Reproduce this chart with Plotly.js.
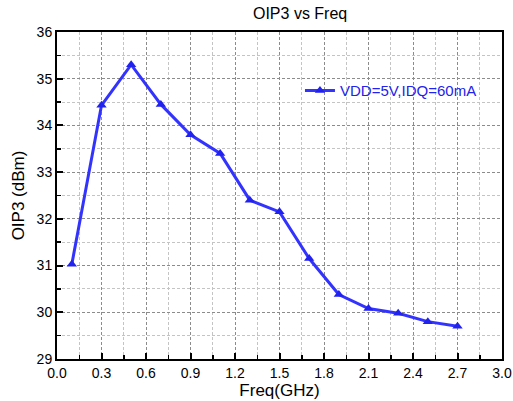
<!DOCTYPE html>
<html>
<head>
<meta charset="utf-8">
<script src="https://cdn.plot.ly/plotly-3.0.1.min.js"></script>
<style>html,body{margin:0;padding:0;background:#fff;}#chart{width:513px;height:401px;}</style>
</head>
<body>
<div id="chart"></div>
<script>
const freq = [0.1, 0.3, 0.5, 0.7, 0.9, 1.1, 1.3, 1.5, 1.7, 1.9, 2.1, 2.3, 2.5, 2.7];
const oip3 = [31.03, 34.43, 35.3, 34.45, 33.8, 33.4, 32.4, 32.15, 31.15, 30.38, 30.08, 29.98, 29.8, 29.7];
const seriesName = 'VDD=5V,IDQ=60mA';

Plotly.newPlot('chart', [{
  x: freq, y: oip3, type: 'scatter', mode: 'lines+markers', name: seriesName,
  line: {color: '#3333ff', width: 3},
  marker: {symbol: 'triangle-up', size: 9, color: '#2222ee'}
}], {
  width: 513, height: 401,
  margin: {l: 57, r: 11, t: 32, b: 42},
  paper_bgcolor: '#fff', plot_bgcolor: '#fff',
  font: {family: 'Liberation Sans, Arial, sans-serif', size: 14, color: '#000'},
  title: {text: 'OIP3 vs Freq', font: {size: 16}, x: 0.585, xanchor: 'center', y: 0.98, yanchor: 'top'},
  showlegend: true,
  legend: {x: 0.546, xanchor: 'left', y: 0.82, yanchor: 'middle', bgcolor: 'rgba(0,0,0,0)',
           font: {color: '#2222ee', size: 15}},
  xaxis: {
    range: [0, 3], dtick: 0.3, tick0: 0, tickformat: '.1f',
    showline: true, linecolor: '#000', linewidth: 2, mirror: true,
    ticks: 'inside', ticklen: 6, tickwidth: 2, tickcolor: '#000',
    zeroline: false,
    gridcolor: '#8c8c8c', griddash: '3px,2px', gridwidth: 1,
    minor: {dtick: 0.15, showgrid: true, gridcolor: '#c4c4c4', griddash: '3px,2px', ticks: 'inside', ticklen: 4, tickwidth: 1.5, tickcolor: '#000'},
    title: {text: 'Freq(GHz)', font: {size: 17}, standoff: 2}
  },
  yaxis: {
    range: [29, 36], dtick: 1,
    showline: true, linecolor: '#000', linewidth: 2, mirror: true,
    ticks: 'inside', ticklen: 6, tickwidth: 2, tickcolor: '#000',
    zeroline: false,
    gridcolor: '#8c8c8c', griddash: '3px,2px', gridwidth: 1,
    minor: {dtick: 0.5, showgrid: true, gridcolor: '#c4c4c4', griddash: '3px,2px', ticks: 'inside', ticklen: 4, tickwidth: 1.5, tickcolor: '#000'},
    title: {text: 'OIP3 (dBm)', font: {size: 17}, standoff: 8}
  }
}, {displayModeBar: false, staticPlot: true});
</script>
</body>
</html>
